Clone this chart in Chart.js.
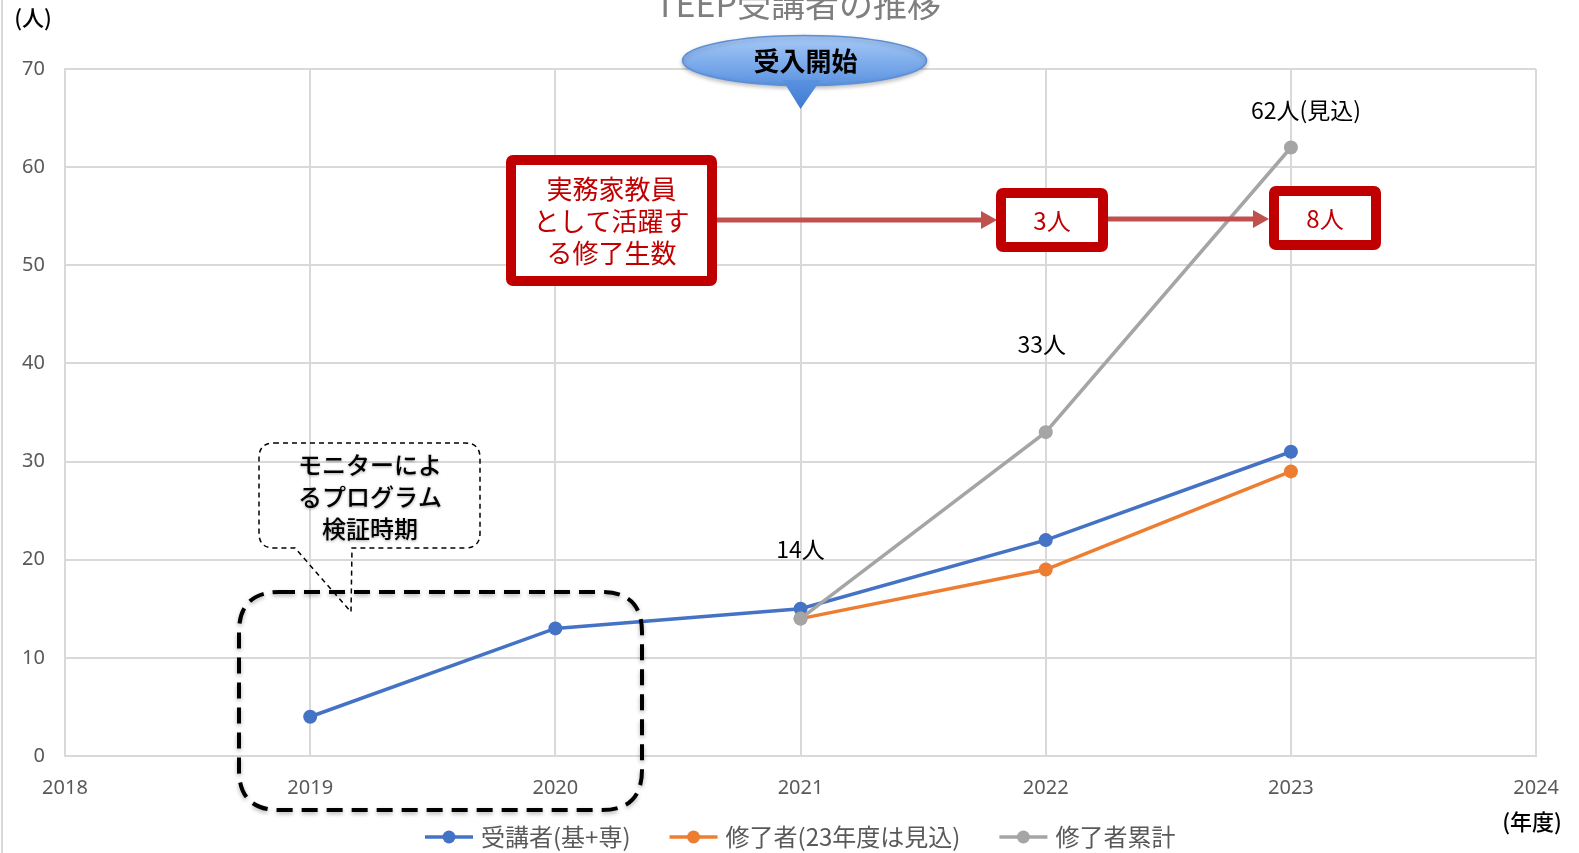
<!DOCTYPE html>
<html>
<head>
<meta charset="utf-8">
<script src="https://cdn.jsdelivr.net/npm/chart.js@4/dist/chart.umd.min.js"></script>
<style>
  html, body { margin: 0; padding: 0; background: #fff; }
  canvas { display: block; }
</style>
</head>
<body>
<canvas id="chart" width="1579" height="853"></canvas>
<script>
const years = [2019, 2020, 2021, 2022, 2023];
const jukousha = [4, 13, 15, 22, 31];
const shuryosha = [null, null, 14, 19, 29];
const ruikei = [null, null, 14, 33, 62];
const seriesNames = ["受講者(基+専)", "修了者(23年度は見込)", "修了者累計"];
const ruikeiLabels = [null, null, "14人", "33人", "62人(見込)"];
const xMin = 2018, xMax = 2024;
const yMin = 0, yMax = 70, yStep = 10;

const JP = '"Noto Sans CJK JP", "Noto Sans", sans-serif';
const NUM = '"Noto Sans", "Liberation Sans", sans-serif';
const colors = ["#4472C4", "#ED7D31", "#A5A5A5"];

function points(vals) {
  let out = [];
  for (let i = 0; i < years.length; i++) {
    if (vals[i] !== null) out.push({ x: years[i], y: vals[i] });
  }
  return out;
}

function roundRect(ctx, x, y, w, h, r) {
  ctx.beginPath();
  ctx.moveTo(x + r, y);
  ctx.lineTo(x + w - r, y);
  ctx.quadraticCurveTo(x + w, y, x + w, y + r);
  ctx.lineTo(x + w, y + h - r);
  ctx.quadraticCurveTo(x + w, y + h, x + w - r, y + h);
  ctx.lineTo(x + r, y + h);
  ctx.quadraticCurveTo(x, y + h, x, y + h - r);
  ctx.lineTo(x, y + r);
  ctx.quadraticCurveTo(x, y, x + r, y);
  ctx.closePath();
}

function arrow(ctx, x1, x2, y) {
  ctx.save();
  ctx.strokeStyle = "#C0504D";
  ctx.fillStyle = "#C0504D";
  ctx.lineWidth = 5;
  ctx.beginPath();
  ctx.moveTo(x1, y);
  ctx.lineTo(x2 - 14, y);
  ctx.stroke();
  ctx.beginPath();
  ctx.moveTo(x2, y);
  ctx.lineTo(x2 - 16, y - 9);
  ctx.lineTo(x2 - 16, y + 9);
  ctx.closePath();
  ctx.fill();
  ctx.restore();
}

function redBox(ctx, x, y, w, h, lines, size, lineGap) {
  ctx.save();
  ctx.strokeStyle = "#C00000";
  ctx.lineWidth = 10;
  roundRect(ctx, x + 5, y + 5, w - 10, h - 10, 2);
  ctx.fillStyle = "#fff";
  ctx.fill();
  ctx.stroke();
  ctx.fillStyle = "#C00000";
  ctx.font = size + "px " + JP;
  ctx.textAlign = "center";
  ctx.textBaseline = "middle";
  let cy = y + h / 2 - (lines.length - 1) * lineGap / 2;
  lines.forEach((t, i) => ctx.fillText(t, x + w / 2, cy + i * lineGap + 1));
  ctx.restore();
}

const extras = {
  id: "extras",
  afterDatasetsDraw(chart) {
    const ctx = chart.ctx;
    const xs = chart.scales.x, ys = chart.scales.y;

    // left edge line
    ctx.save();
    ctx.strokeStyle = "#d9d9d9";
    ctx.lineWidth = 2;
    ctx.beginPath();
    ctx.moveTo(2, 0);
    ctx.lineTo(2, 853);
    ctx.stroke();
    ctx.restore();

    // title (cut off at the top)
    ctx.save();
    ctx.fillStyle = "#7f7f7f";
    ctx.font = "34px " + JP;
    ctx.textAlign = "center";
    ctx.textBaseline = "alphabetic";
    ctx.fillText("TEEP受講者の推移", 798, 17);
    ctx.restore();

    // axis units
    ctx.save();
    ctx.fillStyle = "#000";
    ctx.font = "500 22px " + JP;
    ctx.textAlign = "center";
    ctx.textBaseline = "middle";
    ctx.fillText("(人)", 33, 18);
    ctx.fillText("(年度)", 1532, 822);
    ctx.restore();

    // data labels for cumulative series
    const offs = [null, null, [0, -69], [-4, -88], [15, -37]];
    ctx.save();
    ctx.fillStyle = "#000";
    ctx.font = "23px " + JP;
    ctx.textAlign = "center";
    ctx.textBaseline = "middle";
    for (let i = 0; i < years.length; i++) {
      if (!ruikeiLabels[i]) continue;
      const px = xs.getPixelForValue(years[i]);
      const py = ys.getPixelForValue(ruikei[i]);
      ctx.fillText(ruikeiLabels[i], px + offs[i][0], py + offs[i][1]);
    }
    ctx.restore();

    // 受入開始 callout
    const tipX = xs.getPixelForValue(2021);
    const tipY = ys.top + 40;
    ctx.save();
    const g = ctx.createLinearGradient(0, 35, 0, 86);
    g.addColorStop(0, "#a9cbf8");
    g.addColorStop(1, "#5a92e0");
    ctx.fillStyle = g;
    ctx.strokeStyle = "#5b8fd6";
    ctx.lineWidth = 1.5;
    ctx.shadowColor = "rgba(0,0,0,0.25)";
    ctx.shadowBlur = 4;
    ctx.shadowOffsetY = 2;
    ctx.beginPath();
    ctx.ellipse(tipX + 4, 60.5, 122, 25, 0, 0, Math.PI * 2);
    ctx.fill();
    ctx.stroke();
    ctx.shadowColor = "transparent";
    ctx.beginPath();
    ctx.moveTo(tipX - 18, 80);
    ctx.lineTo(tipX, tipY);
    ctx.lineTo(tipX + 20, 80);
    ctx.closePath();
    const g2 = ctx.createLinearGradient(0, 80, 0, tipY);
    g2.addColorStop(0, "#5a92e0");
    g2.addColorStop(1, "#3f7bd2");
    ctx.fillStyle = g2;
    ctx.fill();
    ctx.fillStyle = "#000";
    ctx.font = "bold 26px " + JP;
    ctx.textAlign = "center";
    ctx.textBaseline = "middle";
    ctx.fillText("受入開始", tipX + 5, 61);
    ctx.restore();

    // red boxes and arrows
    arrow(ctx, 712, 997, 220);
    arrow(ctx, 1104, 1269, 219);
    redBox(ctx, 506, 155, 211, 131, ["実務家教員", "として活躍す", "る修了生数"], 26, 32);
    redBox(ctx, 996, 188, 112, 64, ["3人"], 24, 0);
    redBox(ctx, 1269, 186, 112, 64, ["8人"], 24, 0);

    // big dashed rounded box
    ctx.save();
    ctx.strokeStyle = "#000";
    ctx.lineWidth = 4;
    ctx.setLineDash([16, 9]);
    ctx.shadowColor = "rgba(0,0,0,0.3)";
    ctx.shadowBlur = 4;
    ctx.shadowOffsetY = 2;
    roundRect(ctx, 239, 592, 403, 218, 40);
    ctx.stroke();
    ctx.restore();

    // monitor callout
    ctx.save();
    ctx.strokeStyle = "#000";
    ctx.lineWidth = 1.5;
    ctx.setLineDash([5, 4]);
    ctx.beginPath();
    ctx.moveTo(274, 443);
    ctx.lineTo(465, 443);
    ctx.quadraticCurveTo(480, 443, 480, 458);
    ctx.lineTo(480, 533);
    ctx.quadraticCurveTo(480, 548, 465, 548);
    ctx.lineTo(352, 548);
    ctx.lineTo(351, 612);
    ctx.lineTo(295, 548);
    ctx.lineTo(274, 548);
    ctx.quadraticCurveTo(259, 548, 259, 533);
    ctx.lineTo(259, 458);
    ctx.quadraticCurveTo(259, 443, 274, 443);
    ctx.closePath();
    ctx.stroke();
    ctx.setLineDash([]);
    ctx.fillStyle = "#000";
    ctx.shadowColor = "rgba(0,0,0,0.35)";
    ctx.shadowBlur = 3;
    ctx.shadowOffsetY = 1;
    ctx.font = "500 24px " + JP;
    ctx.textAlign = "center";
    ctx.textBaseline = "middle";
    ["モニターによ", "るプログラム", "検証時期"].forEach((t, i) => ctx.fillText(t, 370, 465 + i * 32));
    ctx.restore();

    // legend
    ctx.save();
    ctx.font = "24px " + JP;
    ctx.textBaseline = "middle";
    let lx = 425;
    const ly = 837;
    chart.data.datasets.forEach((ds, i) => {
      ctx.strokeStyle = ds.borderColor;
      ctx.fillStyle = ds.borderColor;
      ctx.lineWidth = 3.5;
      ctx.beginPath();
      ctx.moveTo(lx, ly);
      ctx.lineTo(lx + 48, ly);
      ctx.stroke();
      ctx.beginPath();
      ctx.arc(lx + 24, ly, 6.5, 0, Math.PI * 2);
      ctx.fill();
      ctx.fillStyle = "#595959";
      ctx.textAlign = "left";
      ctx.fillText(ds.label, lx + 56, ly);
      lx += 56 + ctx.measureText(ds.label).width + 39;
    });
    ctx.restore();
  }
};

const allSeries = [jukousha, shuryosha, ruikei];

new Chart(document.getElementById("chart"), {
  type: "line",
  data: {
    datasets: allSeries.map((vals, i) => ({
      label: seriesNames[i],
      data: points(vals),
      borderColor: colors[i],
      backgroundColor: colors[i],
      borderWidth: 3.5,
      pointRadius: 7,
      pointBorderWidth: 0,
      pointBackgroundColor: colors[i],
      tension: 0,
      order: 2 - i,
    })),
  },
  options: {
    responsive: false,
    animation: false,
    devicePixelRatio: 1,
    layout: { padding: { top: 69, right: 41, left: 0, bottom: 0 } },
    plugins: {
      legend: { display: false },
      title: { display: false },
      tooltip: { enabled: false },
    },
    scales: {
      x: {
        type: "linear",
        min: xMin,
        max: xMax,
        afterFit: (s) => { s.height = 97; },
        ticks: {
          stepSize: 1,
          padding: 20,
          color: "#595959",
          font: { family: NUM, size: 20 },
          callback: (v) => String(v),
        },
        grid: { color: "#d9d9d9", lineWidth: 2, drawTicks: false },
        border: { color: "#d9d9d9", width: 2 },
      },
      y: {
        min: yMin,
        max: yMax,
        afterFit: (s) => { s.width = 65; },
        ticks: {
          stepSize: yStep,
          padding: 20,
          color: "#595959",
          font: { family: NUM, size: 20 },
        },
        grid: { color: "#d9d9d9", lineWidth: 2, drawTicks: false },
        border: { color: "#d9d9d9", width: 2 },
      },
    },
  },
  plugins: [extras],
});
</script>
</body>
</html>
